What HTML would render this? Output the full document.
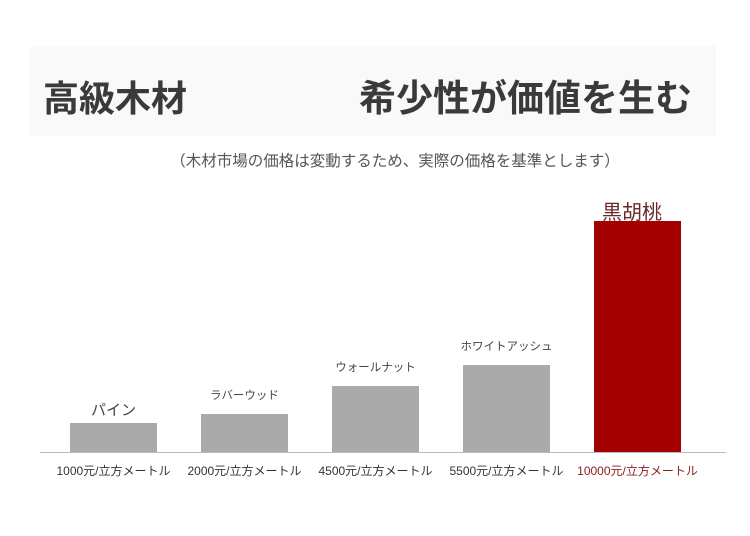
<!DOCTYPE html>
<html><head><meta charset="utf-8">
<style>
html,body{margin:0;padding:0;background:#fff;}
body{width:750px;height:531px;position:relative;overflow:hidden;font-family:"Liberation Sans","Noto Sans CJK JP",sans-serif;}
</style></head>
<body>
<svg id="chart" width="750" height="531" xmlns="http://www.w3.org/2000/svg">
<rect x="30" y="46" width="686" height="90" fill="#f9f9f9"/>
<text x="43" y="111" font-size="36" font-weight="bold" fill="#3a3a3a" font-family="Liberation Sans, Noto Sans CJK JP, sans-serif">高級木材</text>
<text x="359" y="111" font-size="37" font-weight="bold" fill="#3a3a3a" font-family="Liberation Sans, Noto Sans CJK JP, sans-serif">希少性が価値を生む</text>
<text x="395" y="166" font-size="15.5" fill="#555" text-anchor="middle" font-family="Liberation Sans, Noto Sans CJK JP, sans-serif">（木材市場の価格は変動するため、実際の価格を基準とします）</text>
<line x1="40" y1="452.5" x2="726" y2="452.5" stroke="#bdbdbd" stroke-width="1"/>
<g id="bars"></g>
</svg>
<script>
const categories = ["パイン","ラバーウッド","ウォールナット","ホワイトアッシュ","黒胡桃"];
const prices = ["1000元/立方メートル","2000元/立方メートル","4500元/立方メートル","5500元/立方メートル","10000元/立方メートル"];
const heightIndex = [29, 38, 66, 87, 231];
const highlight = [false,false,false,false,true];

const baseY = 452, yMaxPx = 250, yMaxVal = 250;
function yScale(v){ return baseY - v / yMaxVal * yMaxPx; }
const x0 = 70, step = 131, bw = 87;
function xScale(i){ return x0 + i * step; }

const ns = "http://www.w3.org/2000/svg";
const g = document.getElementById("bars");
categories.forEach((c, i) => {
  const x = xScale(i), top = yScale(heightIndex[i]);
  const r = document.createElementNS(ns, "rect");
  r.setAttribute("x", x); r.setAttribute("y", top);
  r.setAttribute("width", bw); r.setAttribute("height", baseY - top);
  r.setAttribute("fill", highlight[i] ? "#a30000" : "#aaaaaa");
  
  
  g.appendChild(r);

  const t = document.createElementNS(ns, "text");
  t.setAttribute("x", x + bw / 2);
  t.setAttribute("text-anchor", "middle");
  t.setAttribute("font-family", "Liberation Sans, Noto Sans CJK JP, sans-serif");
  if (i === 0) { t.setAttribute("y", top - 8); t.setAttribute("font-size", "15"); t.setAttribute("fill", "#444"); }
  else if (highlight[i]) { t.setAttribute("y", top - 2); t.setAttribute("font-size", "20"); t.setAttribute("fill", "#6a2a2a"); t.setAttribute("x", x + 38); }
  else { t.setAttribute("y", top - 15); t.setAttribute("font-size", "11.5"); t.setAttribute("fill", "#444"); }
  t.textContent = c;
  
  
  g.appendChild(t);

  const p = document.createElementNS(ns, "text");
  p.setAttribute("x", x + bw / 2);
  p.setAttribute("y", 475);
  p.setAttribute("text-anchor", "middle");
  p.setAttribute("font-size", "12");
  p.setAttribute("fill", highlight[i] ? "#8b1c1c" : "#333");
  p.setAttribute("font-family", "Liberation Sans, Noto Sans CJK JP, sans-serif");
  p.textContent = prices[i];
  
  
  g.appendChild(p);
});
</script>
</body></html>
